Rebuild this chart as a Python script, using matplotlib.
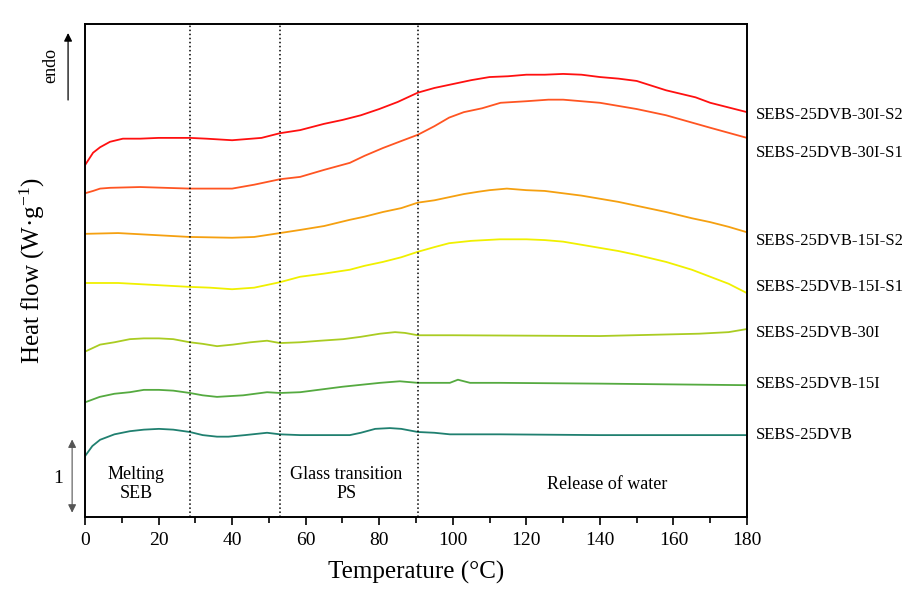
""" DSC curves of SEBS-25DVB samples
"""

import matplotlib
matplotlib.use('Agg')
import matplotlib.pyplot as plt

plt.rcParams['font.family'] = ['Liberation Serif', 'DejaVu Serif']
plt.rcParams['mathtext.fontset'] = 'custom'
plt.rcParams['mathtext.rm'] = 'Liberation Serif'
plt.rcParams['mathtext.it'] = 'Liberation Serif:italic'

# Heat flow curves (W/g, shifted), temperature in degC
t_30i_s2 = [0, 2.2, 4.1, 6.8, 10.3, 15, 20, 28.5, 33, 40, 48, 53, 58.5, 65,
            70, 75, 80, 85, 90.5, 95, 100, 105, 110, 115, 120, 125, 130, 135,
            140, 145, 150, 158, 166, 170, 180]
hf_30i_s2 = [4.51, 4.67, 4.74, 4.81, 4.85, 4.85, 4.86, 4.86, 4.85, 4.83, 4.86,
             4.92, 4.96, 5.04, 5.09, 5.15, 5.23, 5.32, 5.44, 5.50, 5.55, 5.60,
             5.64, 5.65, 5.67, 5.67, 5.68, 5.67, 5.64, 5.62, 5.59, 5.47, 5.38,
             5.31, 5.19]

t_30i_s1 = [0, 2.2, 4.1, 6.8, 15, 28.5, 40, 46, 53, 58.5, 65, 72, 76, 81, 86,
            90.5, 95, 99, 103, 108, 113, 120, 126, 130, 140, 150, 158, 170,
            180]
hf_30i_s1 = [4.15, 4.18, 4.21, 4.22, 4.23, 4.21, 4.21, 4.26, 4.33, 4.36,
             4.45, 4.54, 4.63, 4.73, 4.82, 4.90, 5.01, 5.12, 5.19, 5.24, 5.31,
             5.33, 5.35, 5.35, 5.31, 5.23, 5.15, 4.99, 4.86]

t_15i_s2 = [0, 9, 28.5, 40, 46, 53, 58.5, 65, 72, 76, 81, 86, 90.5, 95, 99,
            103, 107, 110, 114.7, 120, 125, 130, 135, 140, 145, 150, 158, 165,
            170, 175, 180]
hf_15i_s2 = [3.63, 3.64, 3.59, 3.58, 3.59, 3.64, 3.68, 3.73, 3.81, 3.85,
             3.91, 3.96, 4.03, 4.06, 4.10, 4.14, 4.17, 4.19, 4.21, 4.19, 4.18,
             4.15, 4.12, 4.08, 4.04, 3.99, 3.91, 3.83, 3.78, 3.72, 3.65]

t_15i_s1 = [0, 9, 28.5, 34, 40, 46, 53, 58.5, 65, 72, 76, 81, 86, 90.5, 95,
            99, 105, 112.8, 120, 125, 130, 135, 140, 145, 150, 158, 165, 170,
            175, 180]
hf_15i_s1 = [3.00, 3.00, 2.95, 2.94, 2.92, 2.94, 3.01, 3.08, 3.12, 3.17,
             3.22, 3.27, 3.33, 3.40, 3.46, 3.51, 3.54, 3.56, 3.56, 3.55, 3.53,
             3.49, 3.45, 3.41, 3.36, 3.27, 3.17, 3.08, 2.99, 2.87]

t_30i = [0, 4.1, 8, 12.2, 16, 20.1, 24, 28.5, 32, 35.9, 40.2, 45, 49.5, 53,
         58.5, 64, 70.2, 75, 80.2, 84.3, 87, 90.5, 95, 100, 140, 167, 175,
         180]
hf_30i = [2.12, 2.21, 2.24, 2.28, 2.29, 2.29, 2.28, 2.24, 2.22, 2.19, 2.21,
          2.24, 2.26, 2.23, 2.24, 2.26, 2.28, 2.31, 2.35, 2.37, 2.36, 2.33,
          2.33, 2.33, 2.32, 2.35, 2.37, 2.41]

t_15i = [0, 4, 8, 12.2, 16, 20.1, 24, 28.5, 32, 35.9, 43, 49.5, 53, 58.5, 70,
         80.2, 85.6, 88, 90.5, 99.2, 101.4, 104.7, 112.8, 140, 180]
hf_15i = [1.47, 1.54, 1.58, 1.60, 1.63, 1.63, 1.62, 1.59, 1.56, 1.54, 1.56,
          1.60, 1.59, 1.60, 1.67, 1.72, 1.74, 1.73, 1.72, 1.72, 1.76, 1.72,
          1.72, 1.71, 1.69]

t_dvb = [0, 2, 4.1, 8, 12.2, 16, 20.1, 24, 28.5, 32, 35.9, 39, 43.5, 49.5, 53,
         58.5, 65, 72, 75, 78.9, 82.9, 86, 90.5, 95, 99.2, 112.8, 140, 180]
hf_dvb = [0.78, 0.91, 0.99, 1.06, 1.10, 1.12, 1.13, 1.12, 1.09, 1.05, 1.03,
          1.03, 1.05, 1.08, 1.06, 1.05, 1.05, 1.05, 1.08, 1.13, 1.14, 1.13,
          1.09, 1.08, 1.06, 1.06, 1.05, 1.05]

names = ['SEBS-25DVB-30I-S2', 'SEBS-25DVB-30I-S1', 'SEBS-25DVB-15I-S2',
         'SEBS-25DVB-15I-S1', 'SEBS-25DVB-30I', 'SEBS-25DVB-15I',
         'SEBS-25DVB']
temps = [t_30i_s2, t_30i_s1, t_15i_s2, t_15i_s1, t_30i, t_15i, t_dvb]
flows = [hf_30i_s2, hf_30i_s1, hf_15i_s2, hf_15i_s1, hf_30i, hf_15i, hf_dvb]
label_y = [5.15, 4.67, 3.54, 2.95, 2.36, 1.71, 1.05]
colors = ['#ff1010', '#ff5522', '#f5a010', '#f0f000', '#aacc22', '#55aa40',
          '#208070']

# Region boundaries (degC)
bounds = [28.5, 53, 90.5]

fig = plt.figure(figsize=(9.1, 5.94), dpi=100)
ax = fig.add_axes([0.0934, 0.1296, 0.7275, 0.83])

for t, hf, c in zip(temps, flows, colors):
    ax.plot(t, hf, color=c, lw=1.3, solid_joinstyle='round')
for nm, y in zip(names, label_y):
    ax.text(182.5, y, nm, fontsize=12, va='center', ha='left',
            clip_on=False)
for b in bounds:
    ax.axvline(b, color='black', ls=':', lw=1.1)

# Region annotations
ax.text(14, 0.42, 'Melting\nSEB', fontsize=13, ha='center', va='center',
        linespacing=1.15)
ax.text(71, 0.42, 'Glass transition\nPS', fontsize=13, ha='center',
        va='center', linespacing=1.15)
ax.text(142, 0.42, 'Release of water', fontsize=13, ha='center',
        va='center')

# Endo arrow and scale bar
ax.annotate('', xy=(-4.6, 6.24), xytext=(-4.6, 5.31),
            arrowprops=dict(arrowstyle='-|>', color='black', lw=0.9,
                            mutation_scale=12),
            annotation_clip=False)
ax.text(-9.3, 5.79, 'endo', rotation=90, fontsize=13, ha='center',
        va='center', clip_on=False)
ax.annotate('', xy=(-3.5, 1.03), xytext=(-3.5, 0.02),
            arrowprops=dict(arrowstyle='<|-|>', color='#555555', lw=0.8,
                            mutation_scale=12),
            annotation_clip=False)
ax.text(-7.4, 0.5, '1', fontsize=14, ha='center', va='center')

ax.set_xlim(0, 180)
ax.set_ylim(0, 6.32)
ax.set_xticks(range(0, 181, 20))
ax.set_xticks(range(10, 180, 20), minor=True)
ax.set_yticks([])
ax.tick_params(axis='x', which='major', direction='out', length=6,
               width=1.2, labelsize=14, pad=5)
ax.tick_params(axis='x', which='minor', direction='out', length=4,
               width=1.2)
for s in ax.spines.values():
    s.set_linewidth(1.4)
ax.set_xlabel('Temperature (°C)', fontsize=18, labelpad=8)
ax.set_ylabel('Heat flow (W·g$^{-1}$)', fontsize=18, labelpad=27)

plt.savefig('out.png', dpi=100)
